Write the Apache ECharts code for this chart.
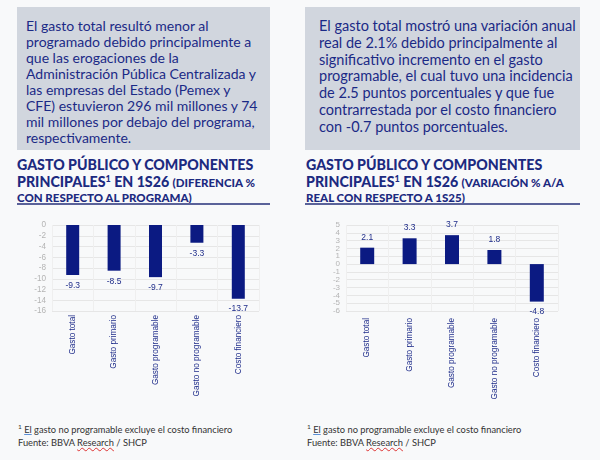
<!DOCTYPE html>
<html>
<head>
<meta charset="utf-8">
<script src="https://cdn.jsdelivr.net/npm/echarts@6/dist/echarts.min.js"></script>
<style>
  html, body { margin: 0; padding: 0; }
  body { width: 600px; height: 460px; position: relative; background: #f8f9fa; overflow: hidden; font-family: Lato, "Noto Sans", sans-serif; }
  .box { position: absolute; top: 7px; height: 143px; background: #d1d6de; color: #1b2a86; box-sizing: border-box; white-space: nowrap; }
  .box.left { left: 17px; width: 253px; padding: 11px 0 0 9px; font-size: 14px; line-height: 16px; }
  .box.right { left: 305px; width: 275px; padding: 11px 0 0 14px; font-size: 14.5px; line-height: 16.8px; }
  .ttl { position: absolute; top: 156px; color: #1c2a80; font-weight: 900; font-size: 14.2px; line-height: 17px; }
  .ttl .l3 { display: block; font-size: 11.5px; line-height: 13px; }
  .ttl small { font-size: 11.5px; font-weight: 900; }
  .ttl sup { font-size: 9px; vertical-align: 5px; line-height: 0; }
  .ttl.left { left: 17px; width: 260px; }
  .ttl.right { left: 306px; width: 280px; }
  .rule { position: absolute; top: 203px; height: 2px; background: #5a6299; }
  .foot { position: absolute; top: 423px; font-size: 9.3px; line-height: 13px; color: #333; }
  .foot sup { font-size: 6.5px; vertical-align: 4px; line-height: 0; }
  .foot .u { text-decoration: underline; text-decoration-color: #5b8fd6; }
  .foot .w { text-decoration: underline wavy #d33; text-decoration-thickness: 1px; }
  #chart { position: absolute; left: 0; top: 210px; width: 600px; height: 200px; }
</style>
</head>
<body>
<div class="box left">El gasto total resultó menor al<br>programado debido principalmente a<br>que las erogaciones de la<br>Administración Pública Centralizada y<br>las empresas del Estado (Pemex y<br>CFE) estuvieron 296 mil millones y 74<br>mil millones por debajo del programa,<br>respectivamente.</div>
<div class="box right">El gasto total mostró una variación anual<br>real de 2.1% debido principalmente al<br>significativo incremento en el gasto<br>programable, el cual tuvo una incidencia<br>de 2.5 puntos porcentuales y que fue<br>contrarrestada por el costo financiero<br>con -0.7 puntos porcentuales.</div>

<div class="ttl left">GASTO PÚBLICO Y COMPONENTES<br>PRINCIPALES<sup>1</sup> EN 1S26 <small>(DIFERENCIA %</small><span class="l3">CON RESPECTO AL PROGRAMA)</span></div>
<div class="ttl right">GASTO PÚBLICO Y COMPONENTES<br>PRINCIPALES<sup>1</sup> EN 1S26 <small>(VARIACIÓN % A/A</small><span class="l3">REAL CON RESPECTO A 1S25)</span></div>
<div class="rule" style="left:17px;width:253px"></div>
<div class="rule" style="left:305px;width:275px"></div>

<div id="chart"></div>

<div class="foot" style="left:18px"><sup>1</sup> <span class="u">El</span> gasto no programable excluye el costo financiero<br>Fuente: BBVA <span class="w">Research</span> / SHCP</div>
<div class="foot" style="left:307px"><sup>1</sup> <span class="u">El</span> gasto no programable excluye el costo financiero<br>Fuente: BBVA <span class="w">Research</span> / SHCP</div>

<script>
// categorias y valores
const categories = ['Gasto total', 'Gasto primario', 'Gasto programable', 'Gasto no programable', 'Costo financiero'];
const diffVsProgram = [-9.3, -8.5, -9.7, -3.3, -13.7];   // diferencia % vs programa
const realVarYoY = [2.1, 3.3, 3.7, 1.8, -4.8];           // variacion % a/a real
const diffAxis = { min: -16, max: 0, interval: 2 };
const varAxis = { min: -6, max: 5, interval: 1 };

const navy = '#0b1a82';
const sans = '"Liberation Sans", Arial, sans-serif';

let myChart = echarts.init(document.getElementById('chart'));

function xAxisFor(idx, margin) {
  return {
    type: 'category',
    gridIndex: idx,
    data: categories,
    axisLine: { show: false, onZero: false },
    axisTick: { show: false },
    splitLine: { show: true, lineStyle: { color: '#efefef', width: 1 } },
    axisLabel: { rotate: 90, margin: margin, color: '#1f2d8a', fontSize: 8.2, fontFamily: sans, interval: 0 }
  };
}
function yAxisFor(idx, a, size) {
  return {
    type: 'value',
    gridIndex: idx,
    min: a.min, max: a.max, interval: a.interval,
    axisLine: { show: false },
    axisTick: { show: false },
    splitLine: { lineStyle: { color: '#e6e6e6', width: 1 } },
    axisLabel: {
      color: '#b4b4b4', fontSize: size, lineHeight: size, fontFamily: sans, margin: 6,
      showMinLabel: true, showMaxLabel: true, hideOverlap: false
    }
  };
}
function barLabel() {
  return {
    show: true,
    position: 'bottom',
    distance: 6,
    color: '#1f2d8a',
    fontSize: 8.5,
    fontFamily: sans,
    formatter: p => p.value.toFixed(1)
  };
}

let option = {
  animation: false,
  grid: [
    { left: 52, top: 15, width: 207, height: 86, outerBoundsMode: 'none', containLabel: false },
    { left: 346, top: 15, width: 212, height: 86, outerBoundsMode: 'none', containLabel: false }
  ],
  xAxis: [xAxisFor(0, 4), xAxisFor(1, 7)],
  yAxis: [yAxisFor(0, diffAxis, 8.2), yAxisFor(1, varAxis, 8)],
  series: [
    {
      type: 'bar', xAxisIndex: 0, yAxisIndex: 0,
      data: diffVsProgram, barWidth: 13,
      itemStyle: { color: navy },
      label: barLabel()
    },
    {
      type: 'bar', xAxisIndex: 1, yAxisIndex: 1,
      data: realVarYoY.map(v => ({ value: v, label: { position: v >= 0 ? 'top' : 'bottom' } })),
      barWidth: 14,
      itemStyle: { color: navy },
      label: barLabel()
    }
  ]
};
myChart.setOption(option);
</script>
</body>
</html>
